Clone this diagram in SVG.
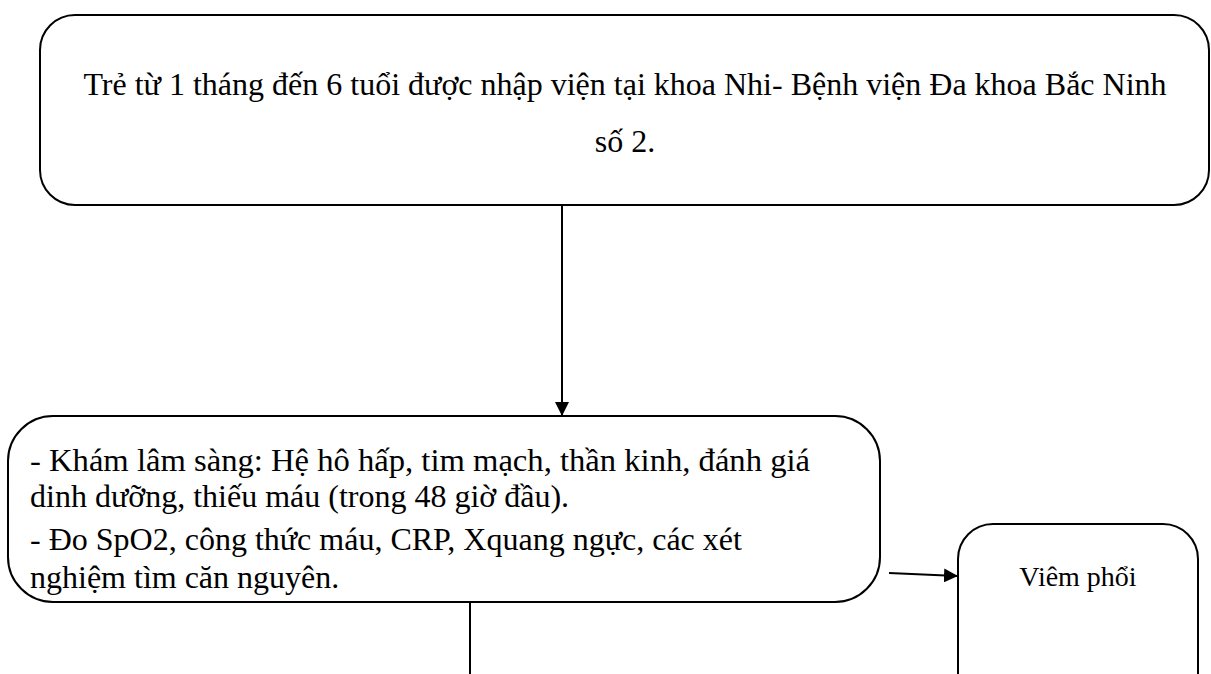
<svg xmlns="http://www.w3.org/2000/svg" width="1211" height="674" viewBox="0 0 1211 674">
<defs>
<style>
.box{fill:#fff;stroke:#000;stroke-width:2}
.t{font-family:"Liberation Serif","Times New Roman",serif;font-size:32px;fill:#000}
.s{font-size:28px}
.c{stroke:#000;stroke-width:2;fill:none}
</style>
<marker id="ah" markerWidth="14" markerHeight="14" refX="13" refY="7" orient="auto" markerUnits="userSpaceOnUse" viewBox="0 0 14 14">
<path d="M0,0 L14,7 L0,14 z" fill="#000"/>
</marker>
</defs>
<rect width="1211" height="674" fill="#fff"/>
<g id="connectors">
<line class="c" x1="562" y1="205" x2="562" y2="415" marker-end="url(#ah)"/>
<line class="c" x1="889" y1="573" x2="957" y2="576" marker-end="url(#ah)"/>
<line class="c" x1="470" y1="602" x2="470" y2="674"/>
</g>
<g id="node-top">
<rect class="box" x="40" y="15" width="1169" height="190" rx="35" ry="35"/>
<text class="t" x="625" y="95" text-anchor="middle">Trẻ từ 1 tháng đến 6 tuổi được nhập viện tại khoa Nhi- Bệnh viện Đa khoa Bắc Ninh</text>
<text class="t" x="625" y="152" text-anchor="middle">số 2.</text>
</g>
<g id="node-kham">
<rect class="box" x="8" y="416" width="872" height="186" rx="45" ry="45"/>
<text class="t" x="30" y="471" textLength="780" lengthAdjust="spacingAndGlyphs">- Khám lâm sàng: Hệ hô hấp, tim mạch, thần kinh, đánh giá</text>
<text class="t" x="30" y="507">dinh dưỡng, thiếu máu (trong 48 giờ đầu).</text>
<text class="t" x="30" y="550">- Đo SpO2, công thức máu, CRP, Xquang ngực, các xét</text>
<text class="t" x="30" y="588">nghiệm tìm căn nguyên.</text>
</g>
<g id="node-viem">
<rect class="box" x="958" y="524" width="240" height="190" rx="35" ry="35"/>
<text class="t s" x="1078" y="586" text-anchor="middle">Viêm phổi</text>
</g>
</svg>
